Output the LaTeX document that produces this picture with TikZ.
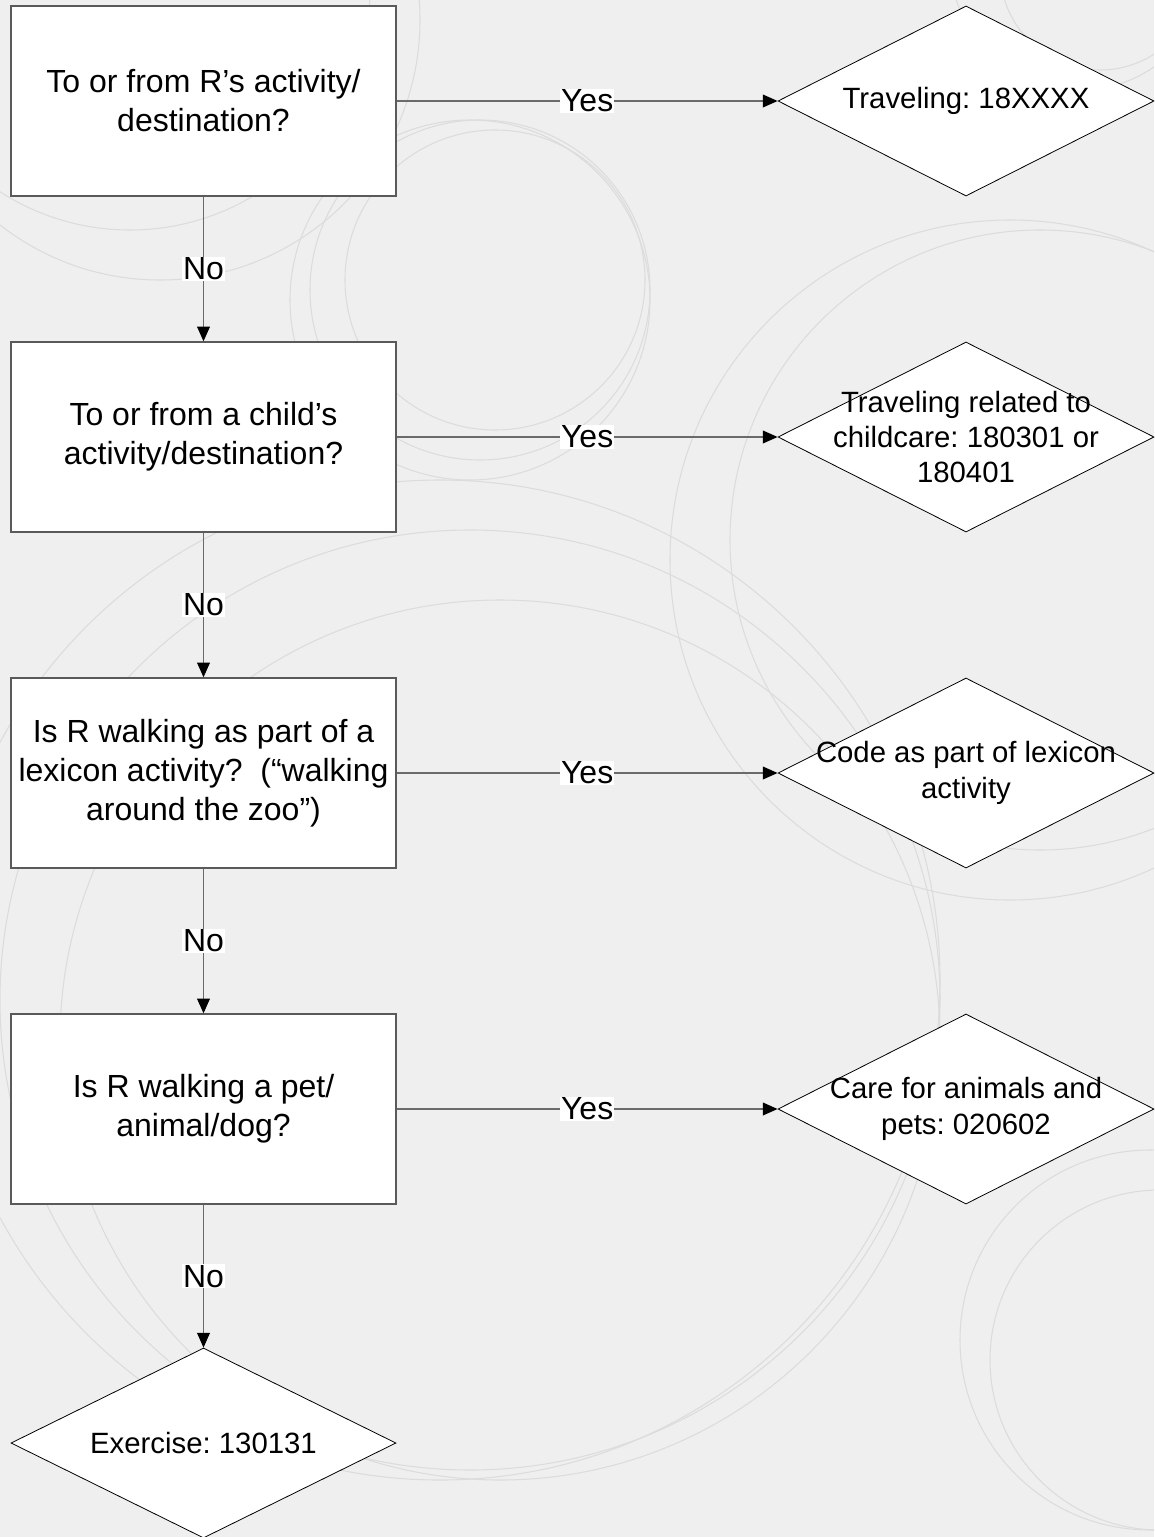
\documentclass[tikz,border=0pt]{standalone}
\usepackage{fontspec}
\setmainfont{Liberation Sans}
\usetikzlibrary{shapes.geometric,arrows.meta}
\definecolor{bgc}{HTML}{EFEFEF}
\definecolor{circc}{HTML}{DCDCDC}
\definecolor{linec}{HTML}{6A6A6A}
\definecolor{boxc}{HTML}{5A5A5A}
\frenchspacing
\begin{document}
\begin{tikzpicture}[x=0.75pt,y=-0.75pt,
  qbox/.style={draw=boxc,line width=1pt,fill=white,minimum width=288.75pt,minimum height=142.5pt,inner sep=0pt},
  dshape/.style={diamond,draw=black,line width=0.6pt,fill=white,minimum width=282pt,minimum height=142.5pt,inner sep=0pt},
  btext/.style={align=center,font=\fontsize{24}{29.2}\selectfont},
  dtext/.style={align=center,font=\fontsize{22}{26.5}\selectfont},
  conn/.style={draw=linec,line width=1pt,-{Triangle[length=11pt,width=9.5pt,fill=black,color=black]}},
  lbl/.style={fill=white,inner sep=0.5pt,font=\fontsize{24}{28}\selectfont}]
\fill[bgc] (0,0) rectangle (1154,1537);
\useasboundingbox (0,0) rectangle (1154,1537);
% faint background circles
\begin{scope}[draw=circc,line width=0.8pt]
\clip (0,0) rectangle (1154,1537);
\draw (480,290) circle [radius=170];
\draw (470,300) circle [radius=180];
\draw (495,280) circle [radius=150];
\draw (470,1000) circle [radius=470];
\draw (500,1040) circle [radius=440];
\draw (440,980) circle [radius=500];
\draw (1010,560) circle [radius=340];
\draw (1040,540) circle [radius=310];
\draw (1150,1340) circle [radius=190];
\draw (1160,1360) circle [radius=170];
\draw (1080,-40) circle [radius=130];
\draw (1100,-30) circle [radius=100];
\draw (130,-10) circle [radius=240];
\draw (160,20) circle [radius=260];
\end{scope}
% boxes
\node[qbox] (q1) at (203.5,101) {};
\node[btext] (t1) at (q1.center) {To or from R’s activity/\\destination?};
\node[qbox] (q2) at (203.5,437) {};
\node[btext] (t2) at (q2.center) {To or from a child’s\\activity/destination?};
\node[qbox] (q3) at (203.5,773) {};
\node[btext] (t3) at (q3.center) {Is R walking as part of a\\lexicon activity?\ \ (“walking\\around the zoo”)};
\node[qbox] (q4) at (203.5,1109) {};
\node[btext] (t4) at (q4.center) {Is R walking a pet/\\animal/dog?};
% diamonds
\node[dshape] (d1) at (966,101) {};
\node[dtext] (u1) at (d1.center) {Traveling: 18XXXX};
\node[dshape] (d2) at (966,437) {};
\node[dtext] (u2) at (d2.center) {Traveling related to\\childcare: 180301 or\\180401};
\node[dshape] (d3) at (966,773) {};
\node[dtext] (u3) at (d3.center) {Code as part of lexicon\\activity};
\node[dshape] (d4) at (966,1109) {};
\node[dtext] (u4) at (d4.center) {Care for animals and\\pets: 020602};
\node[dshape,minimum width=288.75pt] (d5) at (203.5,1443) {};
\node[dtext] (u5) at (d5.center) {Exercise: 130131};
% connectors
\foreach \i in {1,2,3,4}{
  \draw[conn] (q\i.east) -- node[lbl]{Yes} (d\i.west);
}
\draw[conn] (q1.south) -- node[lbl]{No} (q2.north);
\draw[conn] (q2.south) -- node[lbl]{No} (q3.north);
\draw[conn] (q3.south) -- node[lbl]{No} (q4.north);
\draw[conn] (q4.south) -- node[lbl]{No} (d5.north);
\end{tikzpicture}
\end{document}
